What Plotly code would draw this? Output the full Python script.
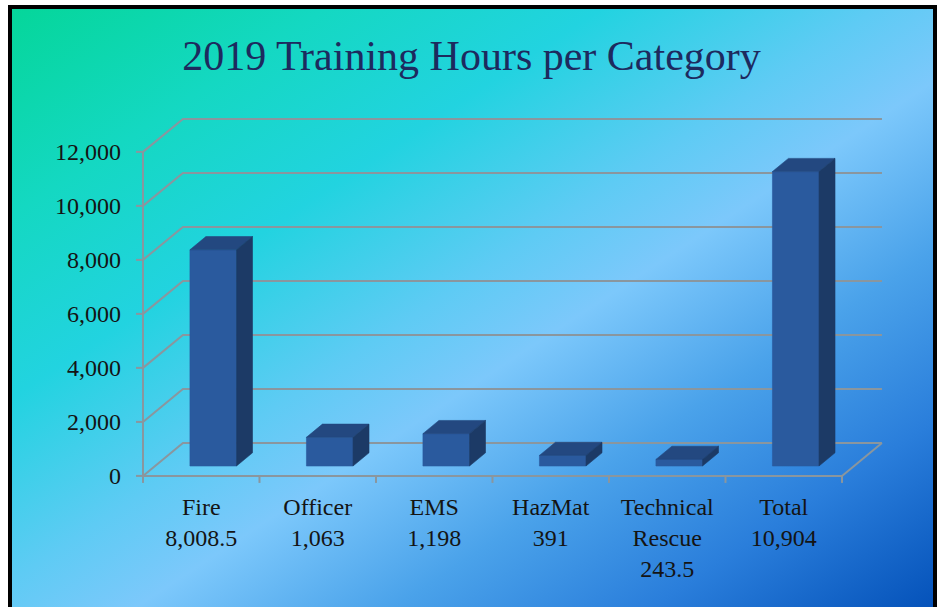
import base64
import plotly.graph_objects as go

# ---- data ----
categories = ["Fire", "Officer", "EMS", "HazMat", "Technical<br>Rescue", "Total"]
hours = [8008.5, 1063, 1198, 391, 243.5, 10904]
hour_labels = ["8,008.5", "1,063", "1,198", "391", "243.5", "10,904"]
y_ticks = [0, 2000, 4000, 6000, 8000, 10000, 12000]
y_tick_labels = ["0", "2,000", "4,000", "6,000", "8,000", "10,000", "12,000"]

# ---- pseudo-3D geometry (category units / value units) ----
DEPTH_DX = 0.343     # horizontal shift from front plane to back wall
DEPTH_DY = 1222      # vertical shift from front plane to back wall
BAR_D0, BAR_D1 = 0.30, 0.70   # bar depth span as fraction of floor depth
BAR_HALF = 0.2
X_LO, X_HI = -0.56, -0.56 + 752 / 116.5
Y_LO, Y_HI = -300, 13403

GRID = "rgb(138,150,158)"
FRONT = "#2a5a9e"
TOP = "#234880"
SIDE = "#1c3a66"

n = len(categories)
left, right = -0.5, n - 0.5

fig = go.Figure()


def add_lines(xs, ys, width=2):
    fig.add_trace(go.Scatter(x=xs, y=ys, mode="lines", hoverinfo="skip",
                             line=dict(color=GRID, width=width), showlegend=False))


# side wall diagonals + back wall gridlines
gx, gy = [], []
for v in y_ticks:
    gx += [left, left + DEPTH_DX, right + DEPTH_DX, None]
    gy += [v, v + DEPTH_DY, v + DEPTH_DY, None]
add_lines(gx, gy)

# floor right edge and front edge, front value axis
add_lines([right, right + DEPTH_DX, None, left, right, None, left, left],
          [0, DEPTH_DY, None, 0, 0, None, 0, y_ticks[-1]])

# tick marks on the front axes
tx, ty = [], []
for v in y_ticks:
    tx += [left - 0.06, left, None]
    ty += [v, v, None]
for k in range(n + 1):
    b = left + k
    tx += [b, b, None]
    ty += [0, -260, None]
add_lines(tx, ty)

# bars: front, top and side faces
fx, fy, topx, topy, sx, sy = [], [], [], [], [], []
ddx = (BAR_D1 - BAR_D0) * DEPTH_DX
ddy = (BAR_D1 - BAR_D0) * DEPTH_DY
for i, v in enumerate(hours):
    c = i + BAR_D0 * DEPTH_DX
    x0, x1 = c - BAR_HALF, c + BAR_HALF
    y0 = BAR_D0 * DEPTH_DY
    y1 = v + y0
    fx += [x0, x1, x1, x0, x0, None]
    fy += [y0, y0, y1, y1, y0, None]
    topx += [x0, x1, x1 + ddx, x0 + ddx, x0, None]
    topy += [y1, y1, y1 + ddy, y1 + ddy, y1, None]
    sx += [x1, x1 + ddx, x1 + ddx, x1, x1, None]
    sy += [y0, y0 + ddy, y1 + ddy, y1, y0, None]

for xs, ys, col in ((fx, fy, FRONT), (topx, topy, TOP), (sx, sy, SIDE)):
    fig.add_trace(go.Scatter(x=xs, y=ys, mode="lines", fill="toself",
                             fillcolor=col, line=dict(color=col, width=0.6),
                             hoverinfo="skip", showlegend=False))

# background: white page, black frame, diagonal gradient panel
W, H = 943, 607
svg = f"""<svg xmlns="http://www.w3.org/2000/svg" width="{W}" height="{H}" viewBox="0 0 {W} {H}" preserveAspectRatio="none">
<defs><linearGradient id="g" x1="0" y1="0" x2="1" y2="1">
<stop offset="0" stop-color="#05d69a"/>
<stop offset="0.17" stop-color="#14d8c2"/>
<stop offset="0.32" stop-color="#22d3e0"/>
<stop offset="0.47" stop-color="#5ecbf4"/>
<stop offset="0.56" stop-color="#7cc8fb"/>
<stop offset="0.70" stop-color="#4aa2ea"/>
<stop offset="0.84" stop-color="#2a7edb"/>
<stop offset="1" stop-color="#0350b8"/>
</linearGradient></defs>
<rect width="{W}" height="{H}" fill="#ffffff"/>
<rect x="8" y="5" width="929" height="{H}" fill="#000000"/>
<rect x="12" y="9" width="921" height="{H}" fill="url(#g)"/>
</svg>"""
uri = "data:image/svg+xml;base64," + base64.b64encode(svg.encode()).decode()

ML, MR, MT, MB = 136, 55, 114, 123
pw, ph = W - ML - MR, H - MT - MB
fig.add_layout_image(dict(source=uri, xref="paper", yref="paper",
                          x=-ML / pw, y=1 + MT / ph, sizex=W / pw, sizey=H / ph,
                          xanchor="left", yanchor="top", sizing="stretch",
                          layer="below"))

tick_text = [f"{c}<br>{h}" for c, h in zip(categories, hour_labels)]

fig.update_layout(
    width=W, height=H,
    margin=dict(l=ML, r=MR, t=MT, b=MB),
    paper_bgcolor="white",
    plot_bgcolor="rgba(0,0,0,0)",
    title=dict(text="2019 Training Hours per Category", x=0.5, xanchor="center",
               y=1 - 55 / H, yanchor="middle",
               font=dict(family="Liberation Serif", size=42, color="#1d2a5e")),
    xaxis=dict(range=[X_LO, X_HI], showgrid=False, zeroline=False, showline=False,
               tickvals=list(range(n)), ticktext=tick_text, ticks="",
               ticklabelstandoff=6,
               tickfont=dict(family="Liberation Serif", size=24, color="#141414")),
    yaxis=dict(range=[Y_LO, Y_HI], showgrid=False, zeroline=False, showline=False,
               tickvals=y_ticks, ticktext=y_tick_labels, ticks="",
               ticklabelstandoff=14,
               tickfont=dict(family="Liberation Serif", size=24, color="#141414")),
    showlegend=False,
)

fig.write_html("out.html")
